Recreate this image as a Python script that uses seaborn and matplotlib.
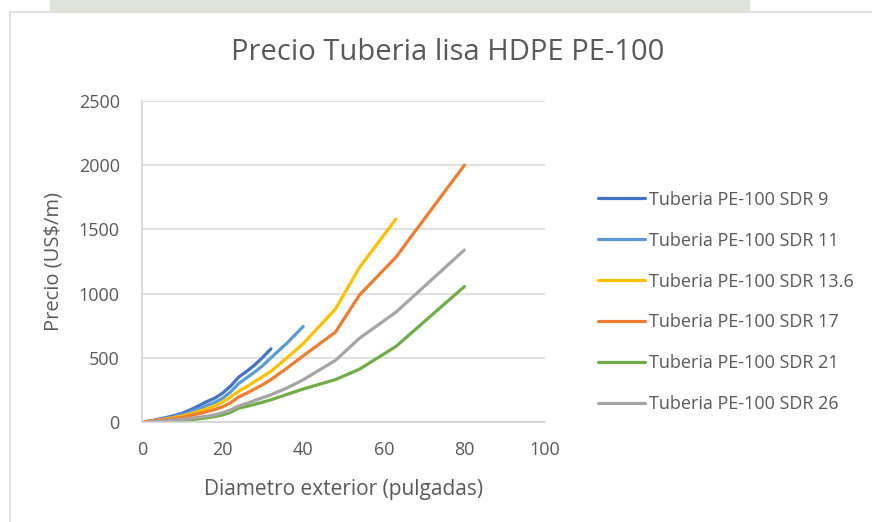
import matplotlib
matplotlib.use("Agg")
import matplotlib.pyplot as plt
from matplotlib.lines import Line2D
from matplotlib.patches import Rectangle
import numpy as np
import pandas as pd
import seaborn as sns

# Outside diameter (inches) and price (US$/m) for each SDR class
series_names = [
    "Tuberia PE-100 SDR 9",
    "Tuberia PE-100 SDR 11",
    "Tuberia PE-100 SDR 13.6",
    "Tuberia PE-100 SDR 17",
    "Tuberia PE-100 SDR 21",
    "Tuberia PE-100 SDR 26",
]

sdr9_x = [1, 2, 3, 4, 6, 8, 10, 12, 14, 16, 18, 20, 22, 24, 26, 28, 30, 32]
sdr9_y = [3, 8, 14, 22, 35, 50, 68, 95, 125, 158, 185, 225, 280, 350, 395, 445, 505, 570]

sdr11_x = [1, 2, 3, 4, 6, 8, 10, 12, 14, 16, 18, 20, 22, 24, 26, 28, 30, 32, 36, 40]
sdr11_y = [2, 6, 11, 18, 29, 42, 57, 78, 102, 128, 152, 185, 235, 300, 345, 390, 440, 500, 615, 744]

sdr136_x = [1, 2, 3, 4, 6, 8, 10, 12, 14, 16, 18, 20, 22, 24, 26, 28, 30, 32, 36, 40, 48, 54, 63]
sdr136_y = [2, 5, 9, 15, 24, 35, 47, 63, 82, 103, 125, 155, 195, 240, 275, 315, 355, 395, 500, 610, 880, 1205, 1580]

sdr17_x = [0.5, 1, 2, 3, 4, 6, 8, 10, 12, 14, 16, 18, 20, 22, 24, 26, 28, 30, 32, 36, 40, 48, 54, 63, 68, 80]
sdr17_y = [1, 3, 5, 8, 12, 19, 27, 37, 50, 64, 80, 97, 118, 150, 195, 225, 258, 292, 330, 420, 515, 700, 990, 1283, 1495, 2000]

sdr21_x = [2, 3, 4, 6, 8, 10, 12, 14, 16, 18, 20, 22, 24, 26, 28, 30, 32, 36, 40, 48, 54, 63, 80]
sdr21_y = [1, 2, 3, 6, 9, 13, 18, 24, 32, 42, 55, 75, 108, 122, 138, 155, 173, 215, 257, 330, 412, 588, 1055]

sdr26_x = [2, 3, 4, 6, 8, 10, 12, 14, 16, 18, 20, 22, 24, 26, 28, 30, 32, 36, 40, 48, 54, 63, 80]
sdr26_y = [2, 4, 6, 10, 15, 20, 27, 36, 45, 56, 72, 95, 125, 145, 168, 190, 212, 265, 329, 480, 653, 855, 1340]

x_ticks = [0, 20, 40, 60, 80, 100]
y_ticks = [0, 500, 1000, 1500, 2000, 2500]

colors = ["#4472C4", "#5B9BD5", "#FFC000", "#ED7D31", "#70AD47", "#A5A5A5"]

all_x = [sdr9_x, sdr11_x, sdr136_x, sdr17_x, sdr21_x, sdr26_x]
all_y = [sdr9_y, sdr11_y, sdr136_y, sdr17_y, sdr21_y, sdr26_y]

frames = []
for name, xs, ys in zip(series_names, all_x, all_y):
    frames.append(pd.DataFrame({"diam": xs, "precio": ys, "serie": name}))
df = pd.concat(frames, ignore_index=True)

sns.set_style("white")
plt.rcParams["font.family"] = ["Open Sans", "DejaVu Sans"]

W, H = 872, 522
fig = plt.figure(figsize=(W / 100, H / 100), dpi=100)
fig.patch.set_facecolor("white")

# faded band along the top edge and the chart-area frame
fig.add_artist(Rectangle((50 / W, 1 - 11 / H), 700 / W, 11 / H,
                         transform=fig.transFigure, facecolor="#dfe4da",
                         edgecolor="none", zorder=0))
fig.add_artist(Line2D([10 / W, 10 / W], [0, 1 - 12 / H], transform=fig.transFigure,
                      color="#d9d9d9", lw=1.2))
fig.add_artist(Line2D([10 / W, 1], [1 - 12 / H, 1 - 12 / H], transform=fig.transFigure,
                      color="#d9d9d9", lw=1.2))

ax = fig.add_axes([142 / W, (H - 422) / H, 403 / W, 321 / H])
sns.lineplot(data=df, x="diam", y="precio", hue="serie", hue_order=series_names,
             palette=colors, estimator=None, sort=False, linewidth=2.3, ax=ax)

ax.set_xlim(0, 100)
ax.set_ylim(0, 2500)
ax.set_xticks(x_ticks)
ax.set_yticks(y_ticks)
ax.tick_params(axis="both", length=0, labelsize=13, colors="#595959")
ax.tick_params(axis="x", pad=14)
ax.tick_params(axis="y", pad=16)
ax.grid(axis="y", color="#d9d9d9", linewidth=1.1)
ax.grid(axis="x", visible=False)
for side in ["top", "right"]:
    ax.spines[side].set_visible(False)
for side in ["left", "bottom"]:
    ax.spines[side].set_color("#d0d0d0")
    ax.spines[side].set_linewidth(1.1)
ax.set_axisbelow(True)

ax.set_xlabel("Diametro exterior (pulgadas)", fontsize=15, color="#595959", labelpad=14)
ax.set_ylabel("Precio (US$/m)", fontsize=14.5, color="#595959", labelpad=11)

fig.text(448 / W, 1 - 52 / H, "Precio Tuberia lisa HDPE PE-100", ha="center", va="center",
         fontsize=21, color="#595959")

leg = ax.legend(loc="center left", bbox_to_anchor=(591 / W, 1 - 302 / H),
                bbox_transform=fig.transFigure, frameon=False, fontsize=13,
                handlelength=2.6, handletextpad=0.2, labelspacing=1.27,
                borderaxespad=0)
for t in leg.get_texts():
    t.set_color("#595959")
for h in leg.get_lines():
    h.set_linewidth(2.3)

fig.savefig("out.png", dpi=100, facecolor="white")
